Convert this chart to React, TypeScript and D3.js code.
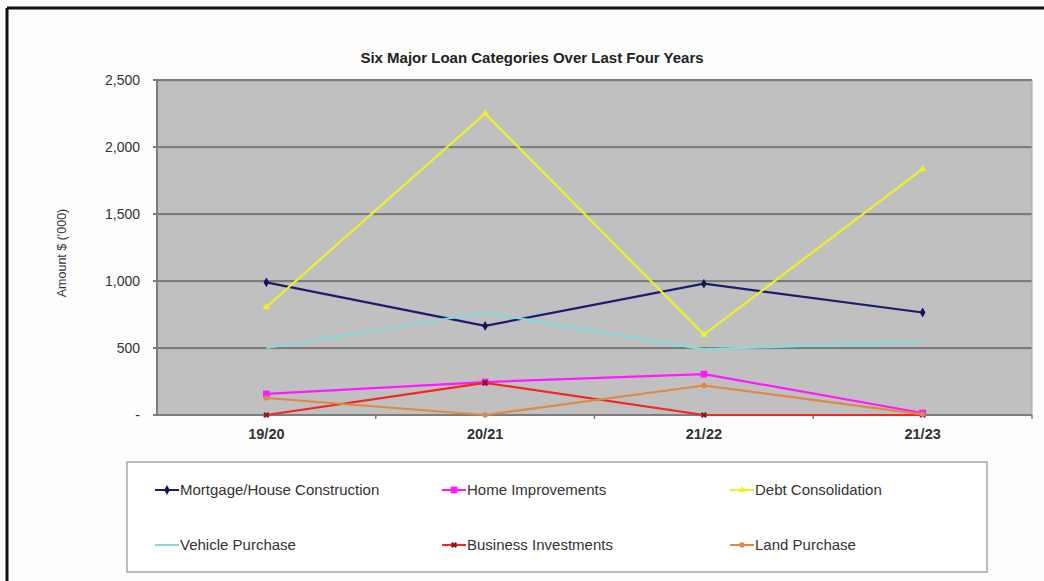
import React from "react";
import * as d3 from "d3";

const categories = ["19/20", "20/21", "21/22", "21/23"];
const yTicks = [0, 500, 1000, 1500, 2000, 2500];
const mortgage = [990, 665, 980, 765];
const homeImprovements = [157, 246, 305, 15];
const debtConsolidation = [806, 2250, 600, 1836];
const vehiclePurchase = [500, 765, 490, 548];
const businessInvestments = [0, 240, 0, 0];
const landPurchase = [127, 0, 220, 5];

const seriesNames = [
  "Mortgage/House Construction",
  "Home Improvements",
  "Debt Consolidation",
  "Vehicle Purchase",
  "Business Investments",
  "Land Purchase",
];
const seriesValues = [mortgage, homeImprovements, debtConsolidation, vehiclePurchase, businessInvestments, landPurchase];
const seriesColors = ["#1c1c6e", "#ff19ff", "#f0f028", "#86dada", "#f0281e", "#dc8a46"];
const markerColors = ["#14145a", "#ff19ff", "#f0f028", "#86dada", "#8c1030", "#dc8a46"];
const markerTypes = ["diamond", "square", "triangle", "none", "star", "circle"];

const W = 1044, H = 581;
const plot = { left: 157, right: 1032, top: 80, bottom: 415 };

function Marker({ type, x, y, color }: { type: string; x: number; y: number; color: string }) {
  if (type === "none") return null;
  const symMap: Record<string, any> = {
    diamond: d3.symbolDiamond,
    square: d3.symbolSquare,
    triangle: d3.symbolTriangle,
    star: d3.symbolCross,
    circle: d3.symbolCircle,
  };
  const size = type === "square" ? 45 : type === "diamond" ? 28 : 24;
  const p = d3.symbol().type(symMap[type]).size(size)();
  return <path d={p || ""} transform={`translate(${x},${y})${type === "star" ? " rotate(45)" : ""}`} fill={color} />;
}

export default function App() {
  const x = d3.scaleBand().domain(categories).range([plot.left, plot.right]);
  const y = d3.scaleLinear().domain([0, 2500]).range([plot.bottom, plot.top]);
  const cx = (c: string) => (x(c) as number) + x.bandwidth() / 2;
  const line = d3
    .line<number>()
    .x((_, i) => cx(categories[i]))
    .y((d) => y(d));
  const font = "'Liberation Sans', Arial, sans-serif";
  const fmt = (v: number) => (v === 0 ? "-" : d3.format(",")(v));

  const legendCols = [155, 442, 730];
  const legendRows = [490, 545];

  return (
    <div style={{ position: "absolute", left: 0, top: 0 }}>
      <svg width={W} height={H} style={{ display: "block", fontFamily: font }}>
        <rect x={0} y={0} width={W} height={H} fill="#fdfdfd" />
        {/* outer chart frame */}
        <line x1={7} y1={8} x2={W} y2={8} stroke="#111" strokeWidth={3} />
        <line x1={7} y1={8} x2={7} y2={H} stroke="#111" strokeWidth={3} />
        <text x={532} y={63} textAnchor="middle" fontSize={15} fontWeight="bold" fill="#222">
          Six Major Loan Categories Over Last Four Years
        </text>
        {/* plot area */}
        <rect x={plot.left} y={plot.top} width={plot.right - plot.left} height={plot.bottom - plot.top} fill="#c0c0c0" />
        {yTicks.map((t) => (
          <g key={t}>
            {t > 0 && <line x1={plot.left} x2={plot.right} y1={y(t) + 1.5} y2={y(t) + 1.5} stroke="#b4b4b4" strokeWidth={1} />}
            <line x1={plot.left - 4} x2={plot.right} y1={y(t)} y2={y(t)} stroke="#7c7c7c" strokeWidth={2} />
            <text x={140} y={y(t) + 5} textAnchor="end" fontSize={14} fill="#333">
              {fmt(t)}
            </text>
          </g>
        ))}
        <line x1={plot.left} x2={plot.left} y1={plot.top} y2={plot.bottom + 1} stroke="#7c7c7c" strokeWidth={2} />
        <line x1={plot.right} x2={plot.right} y1={plot.top} y2={plot.bottom} stroke="#a8a8a8" strokeWidth={1} />
        {categories.map((c) => (
          <g key={c}>
            <line
              x1={(x(c) as number) + x.bandwidth()}
              x2={(x(c) as number) + x.bandwidth()}
              y1={plot.bottom}
              y2={plot.bottom + 4}
              stroke="#7c7c7c"
              strokeWidth={1.5}
            />
            <text x={cx(c)} y={439} textAnchor="middle" fontSize={14.5} fontWeight="bold" fill="#333">
              {c}
            </text>
          </g>
        ))}
        <text transform={`translate(66,253) rotate(-90)`} textAnchor="middle" fontSize={12.5} fill="#333">
          Amount $ ('000)
        </text>
        {/* series */}
        {seriesValues.map((vals, si) => (
          <g key={seriesNames[si]}>
            <path d={line(vals) || ""} fill="none" stroke={seriesColors[si]} strokeWidth={2.2} strokeLinejoin="round" />
            {vals.map((v, i) => (
              <Marker key={i} type={markerTypes[si]} x={cx(categories[i])} y={y(v)} color={markerColors[si]} />
            ))}
          </g>
        ))}
        {/* legend */}
        <rect x={127} y={462} width={860} height={110} fill="#fff" stroke="#a6a6a6" strokeWidth={1.5} />
        {seriesNames.map((n, si) => {
          const lx = legendCols[si % 3];
          const ly = legendRows[Math.floor(si / 3)];
          return (
            <g key={n}>
              <line x1={lx} x2={lx + 24} y1={ly} y2={ly} stroke={seriesColors[si]} strokeWidth={2} />
              <Marker type={markerTypes[si]} x={lx + 12} y={ly} color={markerColors[si]} />
              <text x={lx + 25} y={ly + 5} fontSize={15} fill="#333">
                {n}
              </text>
            </g>
          );
        })}
      </svg>
    </div>
  );
}
